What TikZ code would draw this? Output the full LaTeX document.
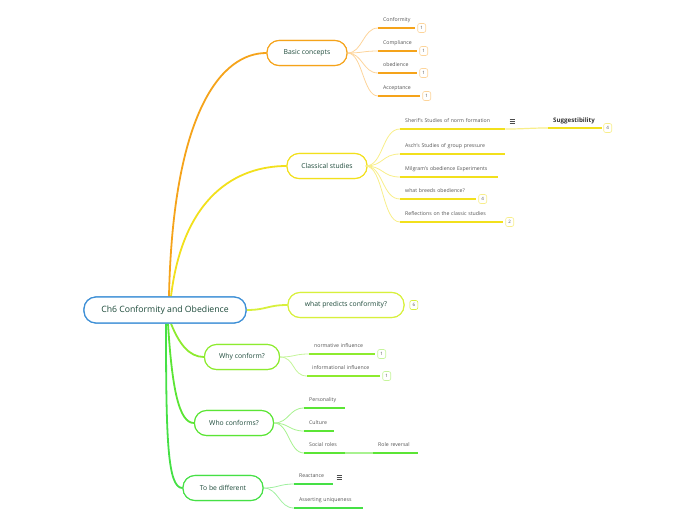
\documentclass[tikz,border=0pt]{standalone}
\usepackage{fontspec}
\setmainfont{Open Sans}
\definecolor{txt}{HTML}{1D4A3A}
\definecolor{subtxt}{HTML}{555555}
\definecolor{rootB}{HTML}{3D8FD6}
\definecolor{orB}{HTML}{F5A31A}
\definecolor{orL}{HTML}{FDD49A}
\definecolor{yeB}{HTML}{F2E01C}
\definecolor{yeL}{HTML}{F8EE8A}
\definecolor{ygB}{HTML}{D8F03C}
\definecolor{liB}{HTML}{8DEB2F}
\definecolor{liL}{HTML}{C5F59A}
\definecolor{grB}{HTML}{5BE535}
\definecolor{grL}{HTML}{A8F290}
\definecolor{g2B}{HTML}{45E045}
\definecolor{g2L}{HTML}{A0F0A0}
\begin{document}
\begin{tikzpicture}[x=1pt,y=-1pt,
  topic/.style={draw, rounded corners=12pt, line width=1.1pt, fill=white, minimum height=25pt, font=\fontsize{6.8}{7}\selectfont, text=txt, inner sep=0pt},
  sub/.style={anchor=south west, inner xsep=5pt, inner ysep=0pt, text height=4pt, text depth=6pt, align=left, font=\fontsize{5.2}{6}\selectfont, text=subtxt},
  ul/.style={draw=#1, line width=1.6pt},
  thin/.style={draw=#1, line width=0.8pt},
  main/.style={draw=#1, line width=1.8pt},
  badge/.style={draw=#1, rounded corners=2pt, minimum width=8pt, minimum height=9pt, inner sep=0pt, font=\fontsize{4.5}{5}\selectfont, anchor=west, line width=0.6pt, text=subtxt, fill=white},
  note/.style={draw=#1, line width=0.4pt},
]
\useasboundingbox (0,0) rectangle (696,520);

% main topics (named, drawn first for anchors)
\node[topic, draw=rootB, line width=1.2pt, minimum width=162pt, minimum height=26pt, font=\fontsize{8.7}{9}\selectfont] (root) at (165,310) {Ch6 Conformity and Obedience};
\node[topic, draw=orB, minimum width=80pt] (bc) at (307,53) {Basic concepts};
\node[topic, draw=yeB, minimum width=80pt] (cs) at (327,166) {Classical studies};
\node[topic, draw=ygB, minimum width=116pt] (wp) at (346,305) {what predicts conformity?};
\node[topic, draw=liB, minimum width=75pt] (wc) at (242,357) {Why conform?};
\node[topic, draw=grB, minimum width=79pt] (who) at (234,423) {Who conforms?};
\node[topic, draw=g2B, minimum width=80pt] (tbd) at (223,488) {To be different};

% root connectors
\draw[main=orB] ([xshift=4pt]root.north) .. controls +(4,-185) and +(-45,0) .. (bc.west);
\draw[main=yeB] ([xshift=6pt]root.north) .. controls +(12,-100) and +(-50,0) .. (cs.west);
\draw[main=ygB] (root.east) .. controls +(20,0) and +(-20,0) .. (wp.west);
\draw[main=liB] ([xshift=6pt]root.south) .. controls +(8,20) and +(-15,0) .. (wc.west);
\draw[main=grB] ([xshift=3pt]root.south) .. controls +(4,65) and +(-15,0) .. (who.west);
\draw[main=g2B] ([xshift=1pt]root.south) .. controls +(0,115) and +(-15,0) .. (tbd.west);
% repaint the topic boxes over the connector ends
\node[topic, draw=rootB, line width=1.2pt, minimum width=162pt, minimum height=26pt, font=\fontsize{8.7}{9}\selectfont] at (root.center) {Ch6 Conformity and Obedience};
\node[topic, draw=orB, minimum width=80pt] at (bc.center) {Basic concepts};
\node[topic, draw=yeB, minimum width=80pt] at (cs.center) {Classical studies};
\node[topic, draw=ygB, minimum width=116pt] at (wp.center) {what predicts conformity?};
\node[topic, draw=liB, minimum width=75pt] at (wc.center) {Why conform?};
\node[topic, draw=grB, minimum width=79pt] at (who.center) {Who conforms?};
\node[topic, draw=g2B, minimum width=80pt] at (tbd.center) {To be different};
\node[badge=ygB] (bwp) at ([xshift=5pt]wp.east) {6};

% Basic concepts
\node[sub, text width=27pt] (c1) at (378,28) {Conformity};
\node[sub, text width=29pt] (c2) at (378,51) {Compliance};
\node[sub, text width=29pt] (c3) at (378,73) {obedience};
\node[sub, text width=32pt] (c4) at (378,96) {Acceptance};
\foreach \n in {c1,c2,c3,c4}{
  \draw[thin=orL] (bc.east) .. controls +(15,0) and +(-15,0) .. (\n.south west);
  \draw[ul=orB] (\n.south west) -- (\n.south east);
  \node[badge=orL] at ([xshift=2pt]\n.south east) {1};
}

% Classical studies
\node[sub, text width=95pt] (s1) at (400,129) {Sherif's Studies of norm formation};
\node[sub, text width=95pt] (s2) at (400,154) {Asch's Studies of group pressure};
\node[sub, text width=88pt] (s3) at (400,177) {Milgram's obedience Experiments};
\node[sub, text width=66pt] (s4) at (400,199) {what breeds obedience?};
\node[sub, text width=93pt] (s5) at (400,222) {Reflections on the classic studies};
\foreach \n in {s1,s2,s3,s4,s5}{
  \draw[thin=yeL] ([xshift=-2pt]cs.east) .. controls +(18,0) and +(-18,0) .. (\n.south west);
  \draw[ul=yeB] (\n.south west) -- (\n.south east);
}
\node[badge=yeL] at ([xshift=2pt]s4.south east) {4};
\node[badge=yeL] at ([xshift=2pt]s5.south east) {2};
\node[sub, text width=44pt, font=\bfseries\fontsize{6.2}{7}\selectfont, text=black!80, text depth=5pt] (sg) at (548,128) {Suggestibility};
\draw[thin=yeL, line width=1.2pt] (s1.south east) .. controls +(20,0) and +(-20,0) .. (sg.south west);
\draw[ul=yeB] (sg.south west) -- (sg.south east);
\node[badge=yeL] at ([xshift=1pt]sg.south east) {4};
% note icon
\foreach \d in {-2,0,2}{\draw[note=black!70] (509.5,121+\d) -- (514.5,121+\d);}

% Why conform
\node[sub, text width=56pt] (w1) at (309,354) {normative influence};
\node[sub, text width=63pt] (w2) at (307,376) {informational influence};
\foreach \n in {w1,w2}{
  \draw[thin=liL] (wc.east) .. controls +(15,0) and +(-15,0) .. (\n.south west);
  \draw[ul=liB] (\n.south west) -- (\n.south east);
  \node[badge=liL] at ([xshift=2pt]\n.south east) {1};
}

% Who conforms
\node[sub, text width=31pt] (p1) at (304,408) {Personality};
\node[sub, text width=20pt] (p2) at (304,431) {Culture};
\node[sub, text width=31pt] (p3) at (304,453) {Social roles};
\foreach \n in {p1,p2,p3}{
  \draw[thin=grL] (who.east) .. controls +(15,0) and +(-15,0) .. (\n.south west);
  \draw[ul=grB] (\n.south west) -- (\n.south east);
}
\node[sub, text width=35pt] (rr) at (373,453) {Role reversal};
\draw[thin=grL, line width=1.2pt] (p3.south east) -- (rr.south west);
\draw[ul=grB] (rr.south west) -- (rr.south east);

% To be different
\node[sub, text width=29pt] (t1) at (294,484) {Reactance};
\node[sub, text width=59pt] (t2) at (294,508) {Asserting uniqueness};
\foreach \n in {t1,t2}{
  \draw[thin=g2L] (tbd.east) .. controls +(15,0) and +(-15,0) .. (\n.south west);
  \draw[ul=g2B] (\n.south west) -- (\n.south east);
}
\foreach \d in {-2,0,2}{\draw[note=black!70] (336.5,477+\d) -- (341.5,477+\d);}
\end{tikzpicture}
\end{document}
